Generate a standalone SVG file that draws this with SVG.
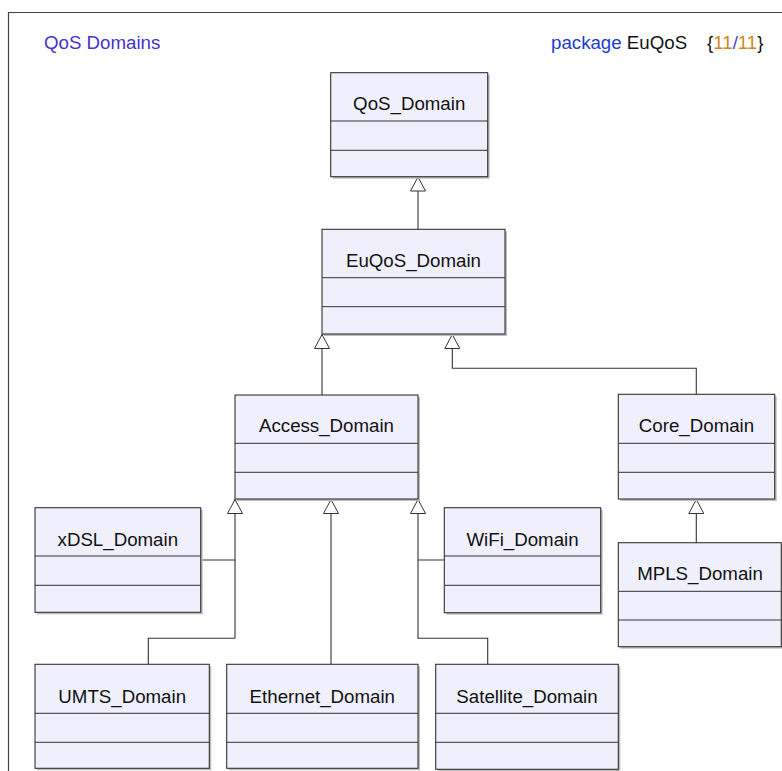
<svg xmlns="http://www.w3.org/2000/svg" width="782" height="771" viewBox="0 0 782 771">
<style>
.frame{fill:none;stroke:#444;stroke-width:1.2}
.box{fill:#f0f0fc;stroke:#333;stroke-width:1.1}
.shadow{fill:#bdbdbd}
.div{stroke:#333;stroke-width:1}
.lbl{font-family:"Liberation Sans",Arial,sans-serif;font-size:18.7px;fill:#111;text-anchor:middle}
.title{font-family:"Liberation Sans",Arial,sans-serif;font-size:18.7px}
.conn{fill:none;stroke:#333;stroke-width:1.1}
</style>
<defs>
<marker id="gen" viewBox="0 0 15 16" markerWidth="15" markerHeight="16" refX="14.5" refY="8" orient="auto" markerUnits="userSpaceOnUse">
<path d="M14.5,8 L0.5,0.5 L0.5,15.5 z" fill="#fff" stroke="#333" stroke-width="1"/>
</marker>
</defs>
<rect width="782" height="771" fill="#fff"/>
<path class="frame" d="M782,12.5 H8.5 V771"/>
<text class="title" x="44" y="48.5" fill="#4432cc">QoS Domains</text>
<text class="title" x="551" y="48.5"><tspan fill="#1a3cd0">package</tspan><tspan fill="#111"> EuQoS</tspan><tspan x="707" fill="#111">{</tspan><tspan fill="#cc8a14">11</tspan><tspan fill="#5040c0">/</tspan><tspan fill="#cc8a14">11</tspan><tspan fill="#111">}</tspan></text>

<g id="connectors">
<path class="conn" d="M418,229.3 V177" marker-end="url(#gen)"/>
<path class="conn" d="M322,395 V334.5" marker-end="url(#gen)"/>
<path class="conn" d="M696.3,394.3 V368.3 H452.3 V334.5" marker-end="url(#gen)"/>
<path class="conn" d="M696.3,542.7 V499.5" marker-end="url(#gen)"/>
<path class="conn" d="M200.7,560 H235 V499.5" marker-end="url(#gen)"/>
<path class="conn" d="M148.3,664.3 V638.3 H235 V560"/>
<path class="conn" d="M331,664.3 V499.5" marker-end="url(#gen)"/>
<path class="conn" d="M444.3,560 H418 V499.5" marker-end="url(#gen)"/>
<path class="conn" d="M487.7,664.3 V638.3 H418 V560"/>
</g>

<g id="QoS_Domain">
<rect class="shadow" x="332.7" y="74.7" width="157" height="104"/>
<rect class="box" x="330.7" y="72.7" width="157" height="104"/>
<line class="div" x1="330.7" y1="121" x2="487.7" y2="121"/>
<line class="div" x1="330.7" y1="150.3" x2="487.7" y2="150.3"/>
<text class="lbl" x="409.2" y="110">QoS_Domain</text>
</g>

<g id="EuQoS_Domain">
<rect class="shadow" x="324" y="231.3" width="183" height="104.7"/>
<rect class="box" x="322" y="229.3" width="183" height="104.7"/>
<line class="div" x1="322" y1="277.7" x2="505" y2="277.7"/>
<line class="div" x1="322" y1="306.7" x2="505" y2="306.7"/>
<text class="lbl" x="413.5" y="266.7">EuQoS_Domain</text>
</g>

<g id="Access_Domain">
<rect class="shadow" x="237" y="397" width="183" height="104"/>
<rect class="box" x="235" y="395" width="183" height="104"/>
<line class="div" x1="235" y1="443.3" x2="418" y2="443.3"/>
<line class="div" x1="235" y1="472.3" x2="418" y2="472.3"/>
<text class="lbl" x="326.5" y="432.4">Access_Domain</text>
</g>

<g id="Core_Domain">
<rect class="shadow" x="620.3" y="396.3" width="156.4" height="104.7"/>
<rect class="box" x="618.3" y="394.3" width="156.4" height="104.7"/>
<line class="div" x1="618.3" y1="443.3" x2="774.7" y2="443.3"/>
<line class="div" x1="618.3" y1="472.3" x2="774.7" y2="472.3"/>
<text class="lbl" x="696.5" y="431.7">Core_Domain</text>
</g>

<g id="MPLS_Domain">
<rect class="shadow" x="620.3" y="544.7" width="163" height="104"/>
<rect class="box" x="618.3" y="542.7" width="163" height="104"/>
<line class="div" x1="618.3" y1="591.3" x2="781.3" y2="591.3"/>
<line class="div" x1="618.3" y1="620" x2="781.3" y2="620"/>
<text class="lbl" x="700" y="580.3">MPLS_Domain</text>
</g>

<g id="xDSL_Domain">
<rect class="shadow" x="37" y="509.7" width="165.7" height="104.6"/>
<rect class="box" x="35" y="507.7" width="165.7" height="104.6"/>
<line class="div" x1="35" y1="556" x2="200.7" y2="556"/>
<line class="div" x1="35" y1="585.3" x2="200.7" y2="585.3"/>
<text class="lbl" x="117.8" y="546">xDSL_Domain</text>
</g>

<g id="WiFi_Domain">
<rect class="shadow" x="446.3" y="509.7" width="156.4" height="105"/>
<rect class="box" x="444.3" y="507.7" width="156.4" height="105"/>
<line class="div" x1="444.3" y1="556" x2="600.7" y2="556"/>
<line class="div" x1="444.3" y1="585.3" x2="600.7" y2="585.3"/>
<text class="lbl" x="522.5" y="546">WiFi_Domain</text>
</g>

<g id="UMTS_Domain">
<rect class="shadow" x="37" y="666.3" width="174.3" height="104"/>
<rect class="box" x="35" y="664.3" width="174.3" height="104"/>
<line class="div" x1="35" y1="713.3" x2="209.3" y2="713.3"/>
<line class="div" x1="35" y1="742.3" x2="209.3" y2="742.3"/>
<text class="lbl" x="122.2" y="702.5">UMTS_Domain</text>
</g>

<g id="Ethernet_Domain">
<rect class="shadow" x="228.7" y="666.3" width="191.3" height="104"/>
<rect class="box" x="226.7" y="664.3" width="191.3" height="104"/>
<line class="div" x1="226.7" y1="713.3" x2="418" y2="713.3"/>
<line class="div" x1="226.7" y1="742.3" x2="418" y2="742.3"/>
<text class="lbl" x="322.3" y="702.5">Ethernet_Domain</text>
</g>

<g id="Satellite_Domain">
<rect class="shadow" x="437.7" y="666.3" width="182.6" height="105"/>
<rect class="box" x="435.7" y="664.3" width="182.6" height="105"/>
<line class="div" x1="435.7" y1="713.3" x2="618.3" y2="713.3"/>
<line class="div" x1="435.7" y1="742.3" x2="618.3" y2="742.3"/>
<text class="lbl" x="527" y="702.5">Satellite_Domain</text>
</g>
</svg>
